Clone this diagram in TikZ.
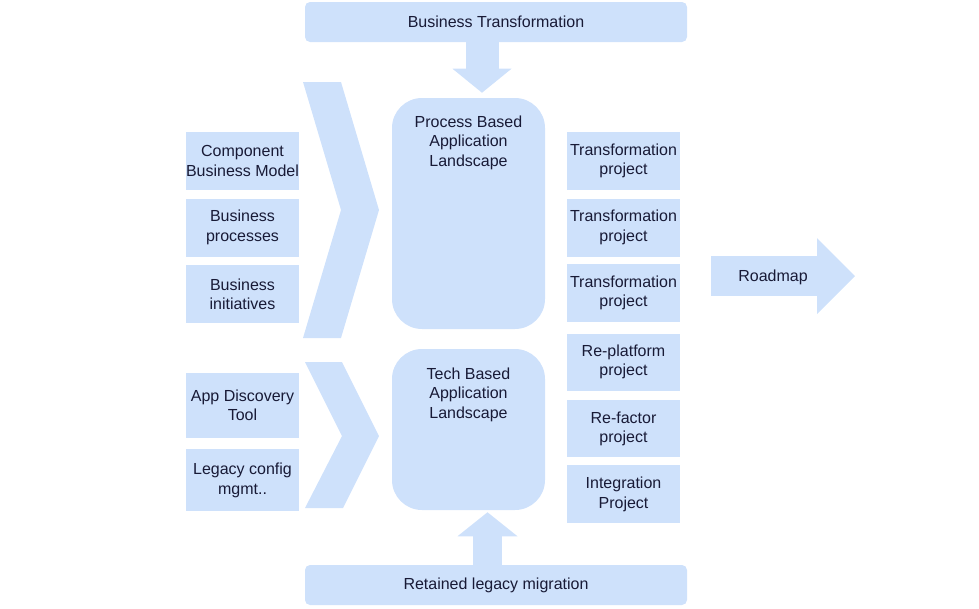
\documentclass[tikz,border=0pt]{standalone}
\usepackage{fontspec}
\setmainfont{Liberation Sans}
\usetikzlibrary{arrows.meta, positioning}
\usepackage{xcolor}
\definecolor{boxblue}{RGB}{206,225,251}
\definecolor{inktext}{RGB}{24,26,54}

\begin{document}
\begin{tikzpicture}[
x=0.75pt, y=-0.75pt,
boxtext/.style={inner sep=0pt, align=center, text=inktext, font=\fontsize{12}{14.6}\selectfont},
box/.style={boxtext, fill=boxblue, minimum width=84.75pt, minimum height=43.5pt},
bar/.style={box, rounded corners=3.75pt, minimum width=286.5pt, minimum height=30pt},
land/.style={box, rounded corners=22.5pt, minimum width=114.75pt},
blockarrow/.style n args={3}{draw=boxblue, line width=#1, -{Triangle[length=#3, width=#2, line width=0pt]}} ]

\useasboundingbox (0,0) rectangle (979,608);

% chevrons
\fill[boxblue] (303,82) -- (341,82) -- (379,210) -- (341,338) -- (303,338) -- (341,210) -- cycle;
\fill[boxblue] (305,362) -- (342,362) -- (379,436) -- (343,508) -- (305,508) -- (342,436) -- cycle;

\node[bar] (bt) at (496,22) {Business Transformation};
\node[land, minimum height=173.25pt] (pb) at (468.5,213.5) {};
\node[boxtext, below=13.3pt of pb.north] (pbt) {Process Based\\Application\\Landscape};
\node[land, minimum height=120.75pt] (tb) at (468.5,429.5) {};
\node[boxtext, below=14pt of tb.north] (tbt) {Tech Based\\Application\\Landscape};
\node[bar] (rl) at (496,585) {Retained legacy migration};

\node[box] (cbm) at (242.5,161) {Component\\Business Model};
\node[box, below=6pt of cbm] (bp) {Business\\processes};
\node[box, below=6pt of bp] (bi) {Business\\initiatives};
\node[box, minimum height=48.75pt, below=36.75pt of bi] (adt) {App Discovery\\Tool};
\node[box, minimum height=46.5pt, below=8.25pt of adt] (lcm) {Legacy config\\mgmt..};

\node[box] (tp1) at (623.5,161) {Transformation\\project};
\node[box, below=6pt of tp1] (tp2) {Transformation\\project};
\node[box, below=5.25pt of tp2] (tp3) {Transformation\\project};
\node[box, minimum height=42.75pt, below=8.25pt of tp3] (rpp) {Re-platform\\project};
\node[box, minimum height=42.75pt, below=7pt of rpp] (rfp) {Re-factor\\project};
\node[box, below=5.5pt of rfp] (ipj) {Integration\\Project};

\coordinate (dn) at (482,0);
\coordinate (up) at (487.5,0);
\draw[blockarrow={24.75pt}{44.25pt}{18pt}, shorten >=3.75pt] (dn |- bt.south) -- (dn |- pb.north);
\draw[blockarrow={21.75pt}{45pt}{18pt}, shorten >=1.5pt] (up |- rl.north) -- (up |- tb.south);

\coordinate (rmtail) at (711,276);
\coordinate (rmtip) at (855,276);
\draw[blockarrow={30pt}{57pt}{28.5pt}] (rmtail) -- (rmtip);
\node[boxtext] (rm) at (773,277) {Roadmap};

\end{tikzpicture}
\end{document}
